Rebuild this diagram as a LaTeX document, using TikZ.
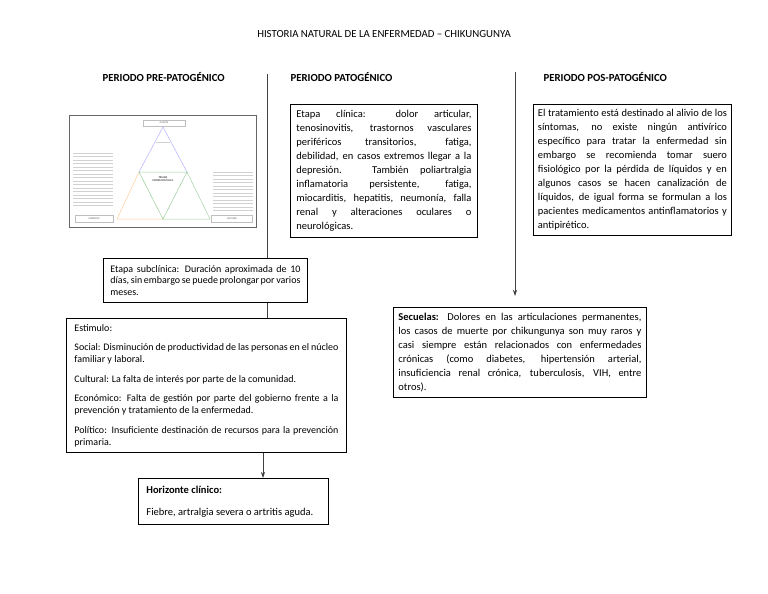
\documentclass[tikz,border=0pt]{standalone}
\usepackage{fontspec}
\setmainfont{Carlito}
\usetikzlibrary{arrows.meta,calc}
\newcommand\nohyph{\hyphenpenalty=10000 \exhyphenpenalty=10000\relax}
\begin{document}
\begin{tikzpicture}[x=1pt,y=-1pt,
  tbox/.style={draw=black,line width=0.9pt,anchor=north west,align=justify,inner ysep=4pt,
    font=\fontsize{10.5}{14}\selectfont\nohyph},
  head/.style={font=\bfseries\fontsize{10.8}{12}\selectfont,anchor=west},
  conn/.style={draw=black!75,line width=0.7pt},
  tip/.style={-{Stealth[length=6pt,width=4pt]}},
  tiny/.style={font=\fontsize{2.6}{3}\selectfont,inner sep=0pt,text=black!60},
  ibox/.style={draw=black!25,line width=0.4pt},
  para/.style={draw=black!18,line width=0.5pt}]
\useasboundingbox (0,0) rectangle (768,594);
\fill[white] (0,0) rectangle (768,594);

% title and headings
\node[font=\fontsize{10.8}{12}\selectfont] (title) at (384,34) {HISTORIA NATURAL DE LA ENFERMEDAD – CHIKUNGUNYA};
\node[head] (hpre) at (99,77) {PERIODO PRE-PATOGÉNICO};
\node[head] (hpat) at (287,77) {PERIODO PATOGÉNICO};
\node[head] (hpos) at (540,77) {PERIODO POS-PATOGÉNICO};

% embedded picture (triada epidemiologica)
\draw[draw=black!60,line width=0.9pt] (69,115) rectangle (256,227);
\node[ibox,minimum width=42pt,minimum height=6pt,inner sep=0pt] (agente) at (164,123) {};
\node[tiny] at (agente) {AGENTE};
\node[ibox,minimum width=38pt,minimum height=7pt,inner sep=0pt] (ambiente) at (94,219) {};
\node[tiny] at (ambiente) {AMBIENTE};
\node[ibox,minimum width=41pt,minimum height=7pt,inner sep=0pt] (huesped) at (232,219) {};
\node[tiny] at (huesped) {HUESPED};
\coordinate (ta) at (163,127);
\coordinate (tl) at (139,172);
\coordinate (tr) at (187,172);
\coordinate (bl) at (117,219);
\coordinate (bm) at (163,219);
\coordinate (br) at (210,219);
\draw[blue!30,line width=0.5pt] (tl) -- (ta) -- (tr);
\draw[orange!40,line width=0.5pt] (tl) -- (bl) -- (bm);
\draw[green!50!black!35,line width=0.5pt] (tr) -- (br) -- (bm);
\draw[green!50!black!40,line width=0.5pt] (tl) -- (tr) -- (bm) -- cycle;
\node[tiny,font=\bfseries\fontsize{2.8}{3.4}\selectfont,align=center,text=black!70] (triada) at (163,179) {TRIADA\\EPIDEMIOLÓGICA};
\draw[para] (156,142) -- (170,142);
\foreach \y in {153,156.5,...,207} \draw[para] (73,\y) -- (113,\y);
\foreach \y in {172,175.5,...,212} \draw[para] (213,\y) -- (253,\y);

% boxes
\node[tbox,text width=175pt,inner xsep=6pt,minimum height=133pt] (clin) at (290,104) {%
Etapa clínica: dolor articular,\linebreak
tenosinovitis, trastornos vasculares\linebreak
periféricos transitorios, fatiga,\linebreak
debilidad, en casos extremos llegar a la\linebreak
depresión. También poliartralgia\linebreak
inflamatoria persistente, fatiga,\linebreak
miocarditis, hepatitis, neumonía, falla\linebreak
renal y alteraciones oculares o\linebreak
neurológicas.};

\node[tbox,text width=189pt,inner xsep=4.5pt,minimum height=131pt] (trat) at (533,104) {%
El tratamiento está destinado al alivio de los\linebreak
síntomas, no existe ningún antivírico\linebreak
específico para tratar la enfermedad sin\linebreak
embargo se recomienda tomar suero\linebreak
fisiológico por la pérdida de líquidos y en\linebreak
algunos casos se hacen canalización de\linebreak
líquidos, de igual forma se formulan a los\linebreak
pacientes medicamentos antinflamatorios y\linebreak
antipirético.};

\node[tbox,text width=190pt,inner xsep=7pt,minimum height=44pt,
  font=\fontsize{10}{11.5}\selectfont\nohyph] (sub) at (103,258) {%
Etapa subclínica: Duración aproximada de 10\linebreak
días, sin embargo se puede prolongar por varios\linebreak
meses.};

\node[tbox,text width=264pt,inner xsep=8pt,minimum height=134pt,
  font=\fontsize{10}{12}\selectfont\nohyph] (est) at (66,318) {%
Estimulo:\par\vskip7.5pt
Social: Disminución de productividad de las personas en el núcleo\linebreak
familiar y laboral.\par\vskip7.5pt
Cultural: La falta de interés por parte de la comunidad.\par\vskip7.5pt
Económico: Falta de gestión por parte del gobierno frente a la\linebreak
prevención y tratamiento de la enfermedad.\par\vskip7.5pt
Político: Insuficiente destinación de recursos para la prevención\linebreak
primaria.};

\node[tbox,text width=243pt,inner xsep=5pt,minimum height=90pt] (sec) at (393,307) {%
\textbf{Secuelas:} Dolores en las articulaciones permanentes,\linebreak
los casos de muerte por chikungunya son muy raros y\linebreak
casi siempre están relacionados con enfermedades\linebreak
crónicas (como diabetes, hipertensión arterial,\linebreak
insuficiencia renal crónica, tuberculosis, VIH, entre\linebreak
otros).};

\node[tbox,text width=174pt,inner xsep=8pt,minimum height=46pt] (hor) at (138,478) {%
\textbf{Horizonte clínico:}\par\vskip8pt
Fiebre, artralgia severa o artritis aguda.};

% connectors
\coordinate (ltop) at (267,74);
\coordinate (rtop) at (515,72);
\coordinate (rbot) at (515,296);
\coordinate (ax) at (263,0);
\draw[conn] (ltop) -- (ltop |- sub.north);
\draw[conn] (sub.south -| ltop) -- (ltop |- est.north);
\draw[conn,tip] (est.south -| ax) -- (ax |- hor.north);
\draw[conn,tip] (rtop) -- (rbot);
\end{tikzpicture}
\end{document}
